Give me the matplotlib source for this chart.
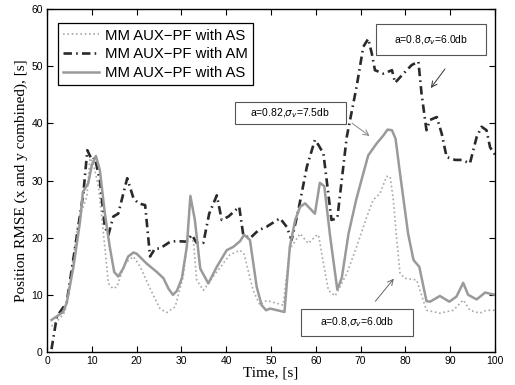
import matplotlib
matplotlib.use('Agg')
import matplotlib.pyplot as plt
from matplotlib.patches import Rectangle

# dotted light gray: MM AUX-PF with AS
t_as1 = [1, 3, 4, 5.1, 7, 8.9, 9.6, 10.3, 11.5, 12.6, 13.7, 14.7, 15.6, 17.4, 19.3, 20.8,
         23, 25.2, 26.7, 28.6, 30.4, 31.5, 32.7, 33.4, 34.9, 37.1, 40.8, 43.1, 44, 46, 47.5,
         49, 50.5, 52.7, 54.2, 56.5, 58.3, 60, 60.6, 61.3, 62.8, 64.3, 66.9, 69.1, 71.4, 72.8,
         74.3, 75.8, 76.6, 77.3, 78, 78.8, 79.9, 82.5, 84.7, 87.7, 90.7, 92.9, 94.4, 96.6, 98.1, 100]
v_as1 = [4.5, 6, 7, 12, 23, 27.2, 33.9, 33, 28.9, 20.7, 12, 11.1, 11.4, 15.5, 16.7, 14.9,
         11.1, 7.6, 6.9, 7.9, 13.2, 20.5, 19.3, 12.6, 10.8, 13.2, 17, 17.8, 17.1, 10.8, 8.2,
         9, 8.7, 8.2, 18, 20.7, 19, 20.3, 20.5, 17.3, 10.8, 9.8, 13.7, 18.4, 23.7, 26.6,
         27.7, 30.7, 30.7, 26.6, 20.2, 13.7, 12.9, 12.6, 7.3, 6.8, 7.3, 9.1, 7.3, 6.8, 7.3, 7.3]

# dash-dot dark: MM AUX-PF with AM
t_am = [1, 2.2, 4.4, 8.1, 9, 10, 10.7, 11.8, 12.9, 13.7, 14.8, 15.9, 17.9, 19.3, 20.4, 21.9,
        23, 24.1, 25.2, 27.5, 28.9, 31.2, 32.3, 33.4, 34.9, 36.2, 37.9, 39, 40.5, 42.9, 43.8,
        45.3, 47.2, 49, 52, 53.5, 54.6, 56.1, 58, 59.8, 60.6, 61.7, 63.5, 64.8, 66.9, 69.1,
        70.6, 71.7, 72.5, 73.2, 75.1, 77, 77.7, 79.2, 81.4, 82.9, 83.6, 84.7, 85.5, 87, 88.1,
        89.2, 91.1, 92.6, 94.4, 95.9, 97, 98.1, 98.9, 100]
v_am = [0.5, 6.2, 8.7, 27.7, 35.3, 33.6, 33.9, 30, 21.9, 20.5, 23.7, 24.2, 30.4, 26.9, 26, 25.7,
        16.7, 18.1, 18.1, 19.3, 19.4, 19.3, 20.5, 19.1, 19.1, 24.2, 27.4, 23.1, 23.7, 25.4, 20.5,
        19.9, 21.3, 21.9, 23.4, 21.9, 19.6, 24.8, 32.4, 37.1, 36.2, 34.7, 23.1, 23.4, 37.6, 46.4,
        53.4, 54.8, 52.2, 49.3, 48.7, 49.3, 47.1, 48.4, 50.2, 50.8, 45.2, 38.8, 40.6, 41.1, 38.2,
        34.1, 33.6, 33.6, 33, 37.6, 39.4, 38.8, 35.8, 34.5]

# solid gray: MM AUX-PF with AS
t_as2 = [1, 3.6, 4.4, 5.9, 7.4, 8.0, 9.2, 10, 10.9, 11.8, 12.9, 14, 15, 15.9, 17, 18.1, 19.3,
         20, 22.2, 24.5, 26, 27.1, 28.1, 29, 30.1, 31.2, 32, 33, 34.2, 36, 37.9, 40.1, 41.6,
         43.1, 44, 45.3, 46.8, 47.9, 48.9, 49.8, 53, 54.2, 55.4, 56.5, 57.6, 59.8, 60.9, 61.9,
         63.2, 64.8, 65.8, 67.3, 69, 70.2, 71.7, 73.6, 75.1, 76, 77, 77.8, 78.8, 80.6, 81.8,
         83.1, 84.7, 85.5, 87.7, 89.8, 91.4, 92.9, 94, 95.9, 97.8, 100]
v_as2 = [5.6, 7.0, 8.6, 14.9, 23, 28, 29.5, 32.7, 34.3, 31.8, 24.3, 18.4, 14, 13.2, 14.6, 16.7, 17.4,
         17.2, 15.5, 14, 12.9, 11.1, 10, 10.7, 12.9, 18.4, 27.3, 23.1, 14.6, 12, 14.9, 17.8, 18.4,
         19.4, 20.5, 19.6, 11.4, 8.2, 7.3, 7.6, 7.0, 18.4, 23.1, 25.4, 26, 24.2, 29.6, 29,
         20.2, 10.9, 13, 20.7, 26.6, 30.1, 34.4, 36.5, 37.9, 38.9, 38.8, 37.3, 31.2, 20.7, 16.1,
         14.9, 8.9, 8.8, 9.8, 8.8, 9.7, 12.1, 10, 9.2, 10.4, 10]

labels = ['MM AUX\u2212PF with AS', 'MM AUX\u2212PF with AM', 'MM AUX\u2212PF with AS']

fig = plt.figure(figsize=(5.15, 3.85), dpi=100)
ax = fig.add_axes([0.0913, 0.0857, 0.8699, 0.8909])

ax.plot(t_as1, v_as1, linestyle=(0, (1, 1.6)), color='#a8a8a8', lw=1.2, label=labels[0])
ax.plot(t_am, v_am, linestyle=(0, (3.2, 1.6, 0.6, 1.6)), color='#2a2a2a', lw=1.9, label=labels[1])
ax.plot(t_as2, v_as2, linestyle='-', color='#9a9a9a', lw=1.8, label=labels[2])

ax.set_xlim(0, 100)
ax.set_ylim(0, 60)
ax.set_xticks(range(0, 101, 10))
ax.set_yticks(range(0, 61, 10))
ax.tick_params(direction='in', top=True, right=True, length=4, labelsize=7.5, pad=3)
for lab in ax.get_xticklabels() + ax.get_yticklabels():
    lab.set_family('Liberation Sans')
for sp in ax.spines.values():
    sp.set_linewidth(1.0)

ax.set_xlabel('Time, [s]', family='Liberation Serif', fontsize=11, labelpad=0)
ax.set_ylabel('Position RMSE (x and y combined), [s]', family='Liberation Serif', fontsize=11, labelpad=2)

leg = ax.legend(loc='upper left', bbox_to_anchor=(0.024, 0.958), fancybox=False,
                prop={'family': 'Liberation Sans', 'size': 10.7}, handlelength=2.4,
                borderpad=0.35, labelspacing=0.32, handletextpad=0.4, borderaxespad=0)
leg.get_frame().set_edgecolor('black')
leg.get_frame().set_linewidth(0.9)
leg.get_frame().set_alpha(1)

# annotation boxes
boxes = [((73.4, 51.9), 24.5, 5.4, (85.7, 54.6), r'a=0.8,$\sigma_v$=6.0db'),
         ((42.0, 39.9), 24.7, 3.9, (54.3, 41.8), r'a=0.82,$\sigma_v$=7.5db'),
         ((56.6, 2.85), 25.0, 4.65, (69.1, 5.2), r'a=0.8,$\sigma_v$=6.0db')]
for (xy, w, h, c, txt) in boxes:
    ax.add_patch(Rectangle(xy, w, h, facecolor='white', edgecolor='#555555', lw=0.8, zorder=5))
    ax.text(c[0], c[1], txt, ha='center', va='center', fontsize=7.5, family='Liberation Sans',
            zorder=6)

ax.annotate('', xy=(85.3, 45.8), xytext=(89.2, 49.9),
            arrowprops=dict(arrowstyle='->', color='#333333', lw=0.7))
ax.annotate('', xy=(72.5, 37.5), xytext=(67.6, 40.3),
            arrowprops=dict(arrowstyle='->', color='#888888', lw=0.7))
ax.annotate('', xy=(77.8, 13.2), xytext=(72.9, 8.5),
            arrowprops=dict(arrowstyle='->', color='#666666', lw=0.7))

fig.savefig('out.png', dpi=100)
